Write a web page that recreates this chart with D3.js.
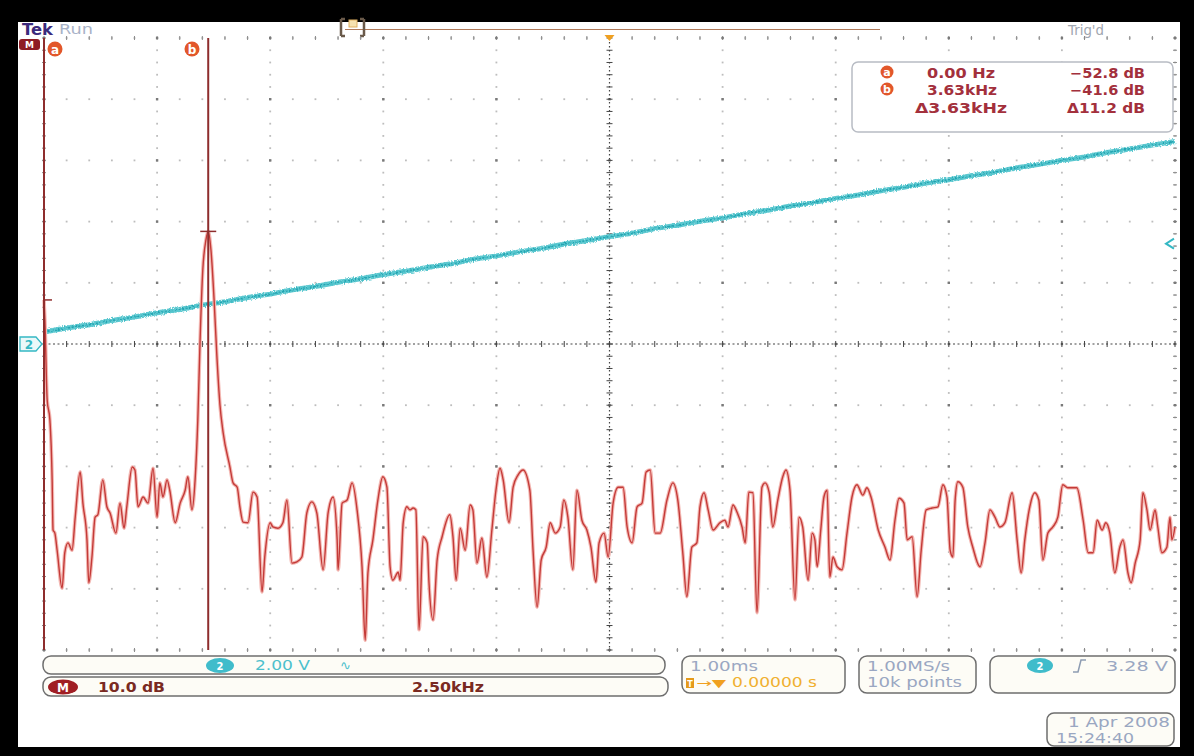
<!DOCTYPE html>
<html><head><meta charset="utf-8">
<script src="https://cdn.jsdelivr.net/npm/d3@7"></script>
<style>html,body{margin:0;padding:0;background:#000;} svg{display:block;}</style>
</head><body>
<svg id="c" width="1194" height="756"></svg>
<script>
// ---------- DATA ----------
// Math (FFT) trace: frequency in kHz, magnitude in dB
const fftFreqKHz = [0,0.02,0.07,0.13,0.18,0.20,0.24,0.29,0.40,0.46,0.53,0.62,0.69,0.80,0.86,0.95,0.99,1.06,1.13,1.19,1.30,1.39,1.46,1.59,1.68,1.77,1.83,1.95,2.01,2.08,2.19,2.30,2.41,2.50,2.56,2.63,2.72,2.78,2.90,3.01,3.12,3.18,3.27,3.34,3.40,3.45,3.51,3.58,3.63,3.69,3.76,3.82,3.89,3.96,4.11,4.18,4.27,4.33,4.40,4.51,4.62,4.71,4.82,4.88,5.00,5.06,5.17,5.28,5.37,5.48,5.59,5.70,5.81,5.92,6.03,6.17,6.28,6.39,6.48,6.50,6.59,6.70,6.81,6.92,7.03,7.10,7.16,7.27,7.38,7.49,7.58,7.65,7.71,7.83,7.87,7.94,8.02,8.09,8.16,8.22,8.29,8.38,8.47,8.51,8.60,8.69,8.80,8.97,9.04,9.11,9.20,9.31,9.42,9.48,9.57,9.68,9.79,9.90,9.99,10.08,10.15,10.28,10.37,10.48,10.59,10.74,10.81,10.90,10.99,11.10,11.19,11.30,11.41,11.49,11.58,11.69,11.78,11.89,12.00,12.09,12.20,12.27,12.38,12.47,12.58,12.69,12.80,12.89,13.00,13.11,13.22,13.31,13.40,13.51,13.62,13.77,13.90,14.01,14.12,14.21,14.32,14.43,14.50,14.59,14.68,14.79,14.94,15.05,15.12,15.23,15.32,15.43,15.50,15.58,15.67,15.76,15.87,15.94,16.03,16.11,16.22,16.33,16.40,16.49,16.60,16.69,16.77,16.89,16.98,17.04,17.09,17.17,17.24,17.31,17.37,17.44,17.53,17.64,17.75,17.86,17.97,18.10,18.19,18.28,18.44,18.59,18.70,18.81,18.90,19.01,19.08,19.19,19.30,19.39,19.50,19.63,19.76,19.87,19.96,20.03,20.09,20.14,20.20,20.31,20.42,20.53,20.69,20.80,20.91,21.02,21.13,21.24,21.40,21.51,21.60,21.68,21.79,21.90,21.99,22.08,22.19,22.30,22.41,22.52,22.63,22.83,22.97,23.08,23.19,23.28,23.39,23.47,23.56,23.67,23.78,23.85,23.96,24.03,24.12,24.23,24.29,24.38,24.45,24.56,24.62,24.71,24.82,24.89,24.93,25.00];
const fftDb = [-52.8,-56.1,-69.1,-72.4,-82.2,-90.4,-90.9,-93.7,-99.9,-94.1,
-92.5,-93.7,-88.3,-80.9,-86.0,-92.0,-99.0,-94.8,-88.3,-87.9,
-82.2,-86.6,-87.6,-90.9,-86.0,-90.1,-86.6,-80.1,-80.6,-86.6,
-85.0,-86.0,-80.3,-88.3,-82.7,-85.0,-82.2,-83.9,-89.2,-86.0,
-83.9,-81.7,-87.1,-82.2,-72.4,-59.4,-47.9,-43.0,-41.6,-44.6,
-52.8,-61.8,-70.0,-74.5,-80.1,-82.7,-83.4,-86.6,-89.1,-89.2,
-84.2,-85.0,-100.5,-94.8,-89.2,-89.9,-90.1,-89.2,-85.5,-95.8,
-95.6,-94.8,-87.6,-85.8,-87.6,-96.9,-87.6,-85.0,-92.0,-96.9,
-86.0,-85.5,-82.7,-87.1,-96.4,-108.4,-97.4,-92.0,-85.5,-81.7,
-83.4,-96.4,-98.6,-97.3,-98.6,-89.2,-86.6,-87.1,-86.8,-87.1,
-106.7,-91.5,-92.5,-99.0,-105.1,-95.3,-91.5,-87.9,-91.5,-98.6,
-90.1,-93.7,-86.3,-87.1,-95.8,-91.7,-98.1,-90.4,-83.9,-80.3,
-82.2,-89.2,-83.4,-81.4,-80.6,-83.9,-93.7,-103.0,-95.3,-93.2,
-89.2,-90.9,-89.9,-85.5,-88.3,-96.9,-83.9,-88.8,-90.4,-93.2,
-98.9,-92.5,-90.9,-94.8,-86.0,-83.4,-83.4,-89.9,-92.5,-86.6,
-86.0,-80.9,-80.6,-90.9,-90.9,-85.5,-82.7,-85.5,-94.1,-101.3,
-93.2,-92.5,-86.6,-84.3,-87.1,-90.4,-89.2,-88.8,-89.9,-86.3,
-87.5,-89.9,-92.5,-84.2,-84.3,-103.9,-83.4,-82.7,-84.3,-89.9,
-85.5,-81.7,-80.6,-83.9,-101.8,-88.3,-89.9,-98.6,-90.9,-92.0,
-96.4,-90.4,-85.0,-83.9,-98.1,-94.8,-96.4,-96.9,-90.9,-85.0,
-83.0,-84.7,-83.5,-85.0,-90.4,-93.2,-95.3,-88.8,-85.2,-86.0,
-92.0,-91.5,-101.3,-93.7,-87.1,-86.8,-86.6,-83.0,-85.0,-93.7,
-94.8,-85.5,-82.5,-83.4,-89.9,-93.2,-96.4,-92.5,-87.1,-88.3,
-89.9,-89.2,-84.3,-92.0,-97.4,-92.0,-86.6,-84.3,-85.5,-95.3,
-90.9,-89.9,-88.3,-83.0,-83.5,-83.5,-88.8,-94.1,-94.1,-88.8,
-90.4,-89.2,-90.9,-97.4,-93.2,-92.0,-97.4,-99.0,-95.8,-92.0,
-84.3,-87.1,-90.4,-87.1,-89.9,-94.1,-93.2,-88.3,-92.0,-89.9];

// Channel 2 time-domain ramp: time in ms, voltage in V
const ch2TimeMs = [-5.0,-4.8,-4.6,-4.4,-4.2,-4.0,-3.8,-3.6,-3.4,-3.2,-3.0,-2.8,-2.6,-2.4,-2.2,-2.0,-1.8,-1.6,-1.4,-1.2,-1.0,-0.8,-0.6,-0.4,-0.2,0.0,0.2,0.4,0.6,0.8,1.0,1.2,1.4,1.6,1.8,2.0,2.2,2.4,2.6,2.8,3.0,3.2,3.4,3.6,3.8,4.0,4.2,4.4,4.6,4.8,5.0];
const ch2Volts = [0.39,0.52,0.63,0.77,0.88,1.02,1.13,1.27,1.38,1.52,1.63,1.77,1.88,2.02,2.13,2.27,2.38,2.51,2.62,2.77,2.88,3.01,3.12,3.27,3.38,3.51,3.62,3.77,3.88,4.01,4.12,4.26,4.37,4.51,4.62,4.76,4.87,5.01,5.12,5.26,5.37,5.50,5.61,5.76,5.87,6.00,6.11,6.26,6.37,6.50,6.62];

// Axis ticks (divisions)
const freqDivKHz = [0,2.5,5,7.5,10,12.5,15,17.5,20,22.5,25];
const dbDiv = [-110,-100,-90,-80,-70,-60,-50,-40,-30,-20,-10];

// Cursors
const cursorNames = ["a","b"];
const cursorFreqKHz = [0, 3.63];
const cursorDb = [-52.8, -41.6];
const readFreq = ["0.00 Hz","3.63kHz","\u03943.63kHz"];
const readDb = ["\u221252.8 dB","\u221241.6 dB","\u039411.2 dB"];
const trigLevelV = 3.28;

// ---------- SCALES ----------
const L=44,R=1175,T=38,B=650;
const xF = d3.scaleLinear().domain([0,25]).range([L,R]);
const yDb = d3.scaleLinear().domain([-110,-10]).range([B,T]);
const xT = d3.scaleLinear().domain([-5,5]).range([L,R]);
const yV = d3.scaleLinear().domain([-10,10]).range([B,T]);

const svg = d3.select('#c');
const defs = svg.append('defs');
const flt = defs.append('filter').attr('id','fuzz').attr('x','-5%').attr('y','-20%').attr('width','110%').attr('height','140%');
flt.append('feTurbulence').attr('type','fractalNoise').attr('baseFrequency','0.9 0.6').attr('numOctaves',2).attr('seed',3).attr('result','n');
flt.append('feDisplacementMap').attr('in','SourceGraphic').attr('in2','n').attr('scale',3.5).attr('xChannelSelector','R').attr('yChannelSelector','G');

svg.append('rect').attr('width',1194).attr('height',756).attr('fill','#000');
svg.append('rect').attr('x',18).attr('y',22).attr('width',1162).attr('height',725).attr('fill','#fff');

const FONT = "'DejaVu Sans', Verdana, sans-serif";
function txt(x,y,s,opt){
  const t = svg.append('text').attr('x',x).attr('y',y).attr('font-family',FONT)
    .attr('font-size',opt.size||13).attr('fill',opt.fill||'#000').text(s);
  if (opt.bold) t.attr('font-weight','bold');
  if (opt.anchor) t.attr('text-anchor',opt.anchor);
  if (opt.len) t.attr('textLength',opt.len).attr('lengthAdjust','spacingAndGlyphs');
  return t;
}

// ---------- top bar ----------
txt(22,34.5,'Tek',{size:15,bold:true,fill:'#3b2a7c',len:31});
txt(59,34,'Run',{size:14,fill:'#a9b3c8',len:34});
txt(1068,35,"Trig'd",{size:14,fill:'#a0a6b0',len:36});
svg.append('line').attr('x1',345).attr('x2',880).attr('y1',29.5).attr('y2',29.5).attr('stroke','#b07a5a').attr('stroke-width',1);
svg.append('path').attr('d','M341,19 L341,36 M341,19 L345,19 M341,36 L345,36 M364,19 L364,36 M364,19 L360,19 M364,36 L360,36')
  .attr('stroke','#6a5a4a').attr('stroke-width',2.5).attr('fill','none');
svg.append('rect').attr('x',349).attr('y',20).attr('width',8).attr('height',7).attr('fill','#f6e2b0').attr('stroke','#e0b060');

// ---------- grid ----------
const g = svg.append('g');
const minorX = d3.range(0,51).map(i=>xF(i*0.5));
const minorY = d3.range(0,51).map(j=>yDb(-110+j*2));
freqDivKHz.forEach(f=>{
  if (f===12.5) return;
  const x = xF(f);
  minorY.forEach(y=>{
    g.append('rect').attr('x',x-0.9).attr('y',y-0.9).attr('width',1.8).attr('height',1.8).attr('fill','#bdbdbd');
  });
});
dbDiv.forEach(d=>{
  if (d===-60) return;
  const y = yDb(d);
  minorX.forEach(x=>{
    g.append('rect').attr('x',x-0.9).attr('y',y-0.9).attr('width',1.8).attr('height',1.8).attr('fill','#bdbdbd');
  });
});
minorY.forEach(y=>{
  [xF(0),xF(25)].forEach(x=>g.append('line').attr('x1',x-2).attr('x2',x+2).attr('y1',y).attr('y2',y).attr('stroke','#8a8a8a').attr('stroke-width',1));
});
minorX.forEach(x=>{
  [yDb(-110),yDb(-10)].forEach(y=>g.append('line').attr('x1',x).attr('x2',x).attr('y1',y-2).attr('y2',y+2).attr('stroke','#8a8a8a').attr('stroke-width',1));
});
freqDivKHz.forEach(f=>dbDiv.forEach(d=>{
  g.append('rect').attr('x',xF(f)-1.2).attr('y',yDb(d)-1.2).attr('width',2.4).attr('height',2.4).attr('fill','#7a7a7a');
}));
const cx = xF(12.5), cy = yDb(-60);
g.append('line').attr('x1',cx).attr('x2',cx).attr('y1',T).attr('y2',B).attr('stroke','#444').attr('stroke-width',1.2).attr('stroke-dasharray','1.5,2.5');
g.append('line').attr('x1',L).attr('x2',R).attr('y1',cy).attr('y2',cy).attr('stroke','#444').attr('stroke-width',1.2).attr('stroke-dasharray','2,2.5');
minorY.forEach(y=>g.append('line').attr('x1',cx-3).attr('x2',cx+3).attr('y1',y).attr('y2',y).attr('stroke','#444').attr('stroke-width',1));
minorX.forEach(x=>g.append('line').attr('x1',x).attr('x2',x).attr('y1',cy-3).attr('y2',cy+3).attr('stroke','#444').attr('stroke-width',1));

// ---------- channel 2 trace ----------
const ch2 = d3.zip(ch2TimeMs, ch2Volts);
const lineT = d3.line().x(d=>xT(d[0])).y(d=>yV(d[1]));
svg.append('path').datum(ch2).attr('d',lineT).attr('fill','none').attr('stroke','#5cc8d0').attr('stroke-width',5).attr('filter','url(#fuzz)');
svg.append('path').datum(ch2).attr('d',lineT).attr('fill','none').attr('stroke','#22a4b1').attr('stroke-width',1.6).attr('stroke-dasharray','2,1.5').attr('filter','url(#fuzz)');

// ---------- FFT trace ----------
const fft = d3.zip(fftFreqKHz, fftDb);
const lineF = d3.line().x(d=>xF(d[0])).y(d=>yDb(d[1])).curve(d3.curveMonotoneX);
svg.append('path').datum(fft).attr('d',lineF).attr('fill','none').attr('stroke','#f3b8b3').attr('stroke-width',3.6).attr('stroke-linejoin','round');
svg.append('path').datum(fft).attr('d',lineF).attr('fill','none').attr('stroke','#c43a38').attr('stroke-width',1.4).attr('stroke-linejoin','round');

// ---------- cursors ----------
const labelX = [55, 192];
cursorFreqKHz.forEach((f,i)=>{
  const x = xF(f);
  svg.append('line').attr('x1',x).attr('x2',x).attr('y1',T).attr('y2',B).attr('stroke','#8e2d2d').attr('stroke-width',2);
  const y = yDb(cursorDb[i]);
  const hw = i===0 ? 0 : 8;
  svg.append('line').attr('x1',x-hw).attr('x2',x+8).attr('y1',y).attr('y2',y).attr('stroke','#8e2d2d').attr('stroke-width',1.5);
  svg.append('circle').attr('cx',labelX[i]).attr('cy',49).attr('r',7.5).attr('fill','#e2572a');
  txt(labelX[i],53.5,cursorNames[i],{size:12,bold:true,fill:'#fff',anchor:'middle'});
});

// math ref badge top-left
svg.append('rect').attr('x',19).attr('y',39).attr('width',21).attr('height',11).attr('rx',3).attr('fill','#8e1c24');
txt(29.5,48,'M',{size:9,bold:true,fill:'#fff',anchor:'middle'});

// ch2 ground marker
const gy = yV(0);
svg.append('path').attr('d',`M20,${gy-7} L36,${gy-7} L42,${gy} L36,${gy+7} L20,${gy+7} Z`).attr('fill','#eaf8f9').attr('stroke','#35b8c4').attr('stroke-width',1.3);
txt(29,gy+5,'2',{size:12,bold:true,fill:'#35b8c4',anchor:'middle'});
// trigger level marker right
const ty = yV(trigLevelV);
svg.append('path').attr('d',`M1174,${ty-5} L1166,${ty} L1174,${ty+5}`).attr('fill','none').attr('stroke','#35b8c4').attr('stroke-width',2);
// trigger position marker top
svg.append('path').attr('d',`M${cx-5},${T-3} L${cx+5},${T-3} L${cx},${T+3} Z`).attr('fill','#f0a020');

// ---------- readout box ----------
svg.append('rect').attr('x',852).attr('y',62).attr('width',321).attr('height',70).attr('rx',6)
  .attr('fill','#fff').attr('stroke','#b8bcc4').attr('stroke-width',1.5);
const rowY = [78,95,113];
const freqX = [927,927,915], freqLen = [68,70,92], dbLen=[75,75,78];
rowY.forEach((y,i)=>{
  if (i<2){
    svg.append('circle').attr('cx',887).attr('cy',y-6).attr('r',6.5).attr('fill','#e2572a');
    txt(887,y-2,cursorNames[i],{size:11,bold:true,fill:'#fff',anchor:'middle'});
  }
  txt(freqX[i],y,readFreq[i],{size:14,bold:true,fill:'#a3303c',len:freqLen[i]});
  txt(1145-dbLen[i],y,readDb[i],{size:14,bold:true,fill:'#a3303c',len:dbLen[i]});
});

// ---------- bottom status ----------
function box(x,y,w,h,r){
  svg.append('rect').attr('x',x).attr('y',y).attr('width',w).attr('height',h).attr('rx',r)
    .attr('fill','#fdfcf6').attr('stroke','#6e6e6e').attr('stroke-width',1.5);
}
box(43,656,622,18,8);
box(43,677,625,19,8);
box(682,656,163,37,8);
box(859,656,117,37,8);
box(990,656,185,37,8);
box(1047,713,127,33,7);

svg.append('ellipse').attr('cx',220).attr('cy',665.5).attr('rx',14).attr('ry',7.5).attr('fill','#40bccb');
txt(220,670,'2',{size:10,bold:true,fill:'#fff',anchor:'middle'});
txt(255,670,'2.00 V',{size:14,fill:'#4cc0cc',len:55});
txt(340,670,'\u223F',{size:13,fill:'#4cc0cc'});

svg.append('ellipse').attr('cx',63).attr('cy',687).attr('rx',15).attr('ry',7.5).attr('fill','#a01e24');
txt(63,692,'M',{size:12,bold:true,fill:'#fff',anchor:'middle'});
txt(98,692,'10.0 dB',{size:14,bold:true,fill:'#7a2a22',len:67});
txt(412,692,'2.50kHz',{size:14,bold:true,fill:'#7a2a22',len:72});

txt(690,671,'1.00ms',{size:14,fill:'#9aa7c2',len:68});
svg.append('rect').attr('x',686).attr('y',678).attr('width',8).attr('height',10).attr('fill','#e59a1a');
txt(690,687,'T',{size:8,bold:true,fill:'#fff',anchor:'middle'});
txt(696,687,'\u2192\u25BC',{size:11,fill:'#f0a020',len:30});
txt(732,687,'0.00000 s',{size:14,fill:'#f0b030',len:85});

txt(867,671,'1.00MS/s',{size:14,fill:'#9aa7c2',len:83});
txt(867,687,'10k points',{size:14,fill:'#9aa7c2',len:95});

svg.append('ellipse').attr('cx',1040).attr('cy',665.5).attr('rx',13).attr('ry',7.5).attr('fill','#40bccb');
txt(1040,670,'2',{size:10,bold:true,fill:'#fff',anchor:'middle'});
svg.append('path').attr('d','M1073,672 L1078,672 L1081,660 L1086,660').attr('fill','none').attr('stroke','#8d9cb2').attr('stroke-width',1.5);
txt(1106,671,'3.28 V',{size:14,fill:'#9aa7c2',len:62});

txt(1068,727,'1 Apr 2008',{size:14,fill:'#9aa7c2',len:102});
txt(1056,743,'15:24:40',{size:14,fill:'#9aa7c2',len:78});
</script>
</body></html>
